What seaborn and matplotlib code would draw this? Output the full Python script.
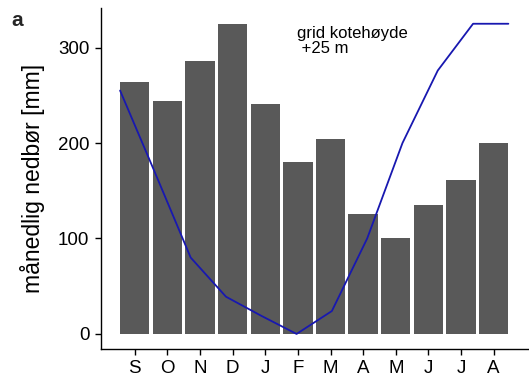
import numpy as np
import pandas as pd
import matplotlib
matplotlib.use("Agg")
import matplotlib.pyplot as plt
import seaborn as sns

months = ["S", "O", "N", "D", "J", "F", "M", "A", "M", "J", "J", "A"]
precip = [264, 244, 286, 325, 241, 180, 204, 126, 100, 135, 161, 200]
elev_line = [255, 168, 80, 39, 19, 0, 24, 100, 200, 276, 325, 325]

sns.set_theme(style="white")
plt.rcParams['font.family'] = ['Liberation Sans', 'DejaVu Sans']

fig = plt.figure(figsize=(5.29, 3.83), dpi=100)
ax = fig.add_axes([0.190, 0.0875, 0.808, 0.8916])

df = pd.DataFrame({"pos": np.arange(len(months)), "precip": precip})
sns.barplot(data=df, x="pos", y="precip", color="#595959", saturation=1,
            width=0.9, ax=ax, edgecolor="none")

line_x = np.linspace(-0.45, len(months) - 1 + 0.45, len(elev_line))
sns.lineplot(x=line_x, y=elev_line, color="#1818b0", linewidth=1.3, ax=ax)

ax.set_xlim(-1.05, 12.05)
ax.set_ylim(-16.3, 341.5)
ax.set_xticks(np.arange(len(months)))
ax.set_xticklabels(months)
ax.set_yticks([0, 100, 200, 300])
ax.set_xlabel("")
ax.set_ylabel("månedlig nedbør [mm]", fontsize=16.5, labelpad=9.5, color="black")
ax.tick_params(axis="both", labelsize=13.5, colors="black", length=4.5,
               width=1.0, direction="out")
ax.tick_params(axis="x", pad=3)
ax.tick_params(axis="y", pad=3.5)
ax.tick_params(axis="both", which="both", bottom=True, left=True)
for side in ["top", "right"]:
    ax.spines[side].set_visible(False)
for side in ["left", "bottom"]:
    ax.spines[side].set_color("black")
    ax.spines[side].set_linewidth(1.0)

ax.text(4.98, 307, "grid kotehøyde\n +25 m", fontsize=12, ha="left",
        va="center", multialignment="left", linespacing=1.05, color="black")

fig.text(0.022, 0.972, "a", fontsize=15, fontweight="bold", ha="left", va="top")

fig.savefig("out.png", dpi=100)
